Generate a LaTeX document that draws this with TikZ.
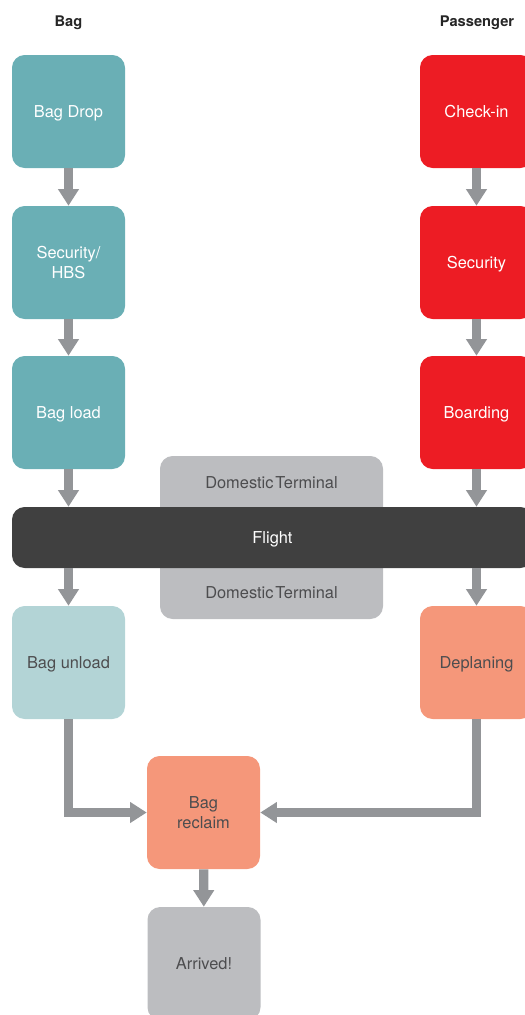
\documentclass[tikz,border=0pt]{standalone}
\usepackage{fontspec}
\setmainfont{TeX Gyre Heros}
\usetikzlibrary{arrows.meta}
\definecolor{teal1}{HTML}{6AAFB5}
\definecolor{teal2}{HTML}{B3D4D6}
\definecolor{red1}{HTML}{ED1C24}
\definecolor{salmon}{HTML}{F5977A}
\definecolor{dark1}{HTML}{404040}
\definecolor{grey1}{HTML}{BCBDC0}
\definecolor{arrowgrey}{HTML}{939598}
\definecolor{txtdark}{HTML}{4D4D4F}
\newcommand{\boxfont}{\fontsize{12.3}{14.5}\selectfont}
\tikzset{
  box/.style={rounded corners=9.5pt, minimum width=84.75pt, minimum height=84.75pt,
    inner sep=0pt, align=center, font=\boxfont, text depth=0pt},
  tealbox/.style={box, fill=teal1, text=white},
  redbox/.style={box, fill=red1, text=white},
  lightbox/.style={box, fill=teal2, text=txtdark},
  salmonbox/.style={box, fill=salmon, text=txtdark},
  greybox/.style={box, fill=grey1, text=txtdark},
  flow/.style={draw=arrowgrey, line width=7pt, -{Triangle[width=15pt,length=12.5pt]}},
  header/.style={font=\fontsize{11}{13.5}\selectfont\bfseries, text=black!85, text depth=0pt},
  lbl/.style={font=\boxfont, text=txtdark, text depth=0pt}
}
\begin{document}
\begin{tikzpicture}[x=0.75pt,y=-0.75pt]
\clip (0,0) rectangle (525,1015);
\node[header] (hbag) at (68.5,21) {Bag};
\node[header] (hpas) at (477,21) {Passenger};

% terminal box behind flight
\node[rounded corners=9.5pt, fill=grey1, minimum width=167.25pt, minimum height=122.25pt, inner sep=0pt] (dom) at (271.5,537.5) {};
\node[lbl] (domt) at (271.5,483) {Domestic\hspace{0.12em}Terminal};
\node[lbl] (domb) at (271.5,593) {Domestic\hspace{0.12em}Terminal};

\node[rounded corners=9.5pt, fill=dark1, text=white, minimum width=390.75pt, minimum height=45.75pt, inner sep=0pt, font=\boxfont, text depth=0pt] (fl) at (272.5,537.5) {Flight};

\node[tealbox] (bd) at (68.5,111.5) {Bag Drop};
\node[tealbox] (sec) at (68.5,262.5) {Security/\\HBS};
\node[tealbox] (bl) at (68.5,412.5) {Bag load};
\node[lightbox] (bu) at (68.5,662.5) {Bag unload};

\node[redbox] (ci) at (476.5,111.5) {Check-in};
\node[redbox] (ps) at (476.5,262.5) {Security};
\node[redbox] (bo) at (476.5,412.5) {Boarding};
\node[salmonbox] (dp) at (476.5,662.5) {Deplaning};

\node[salmonbox] (br) at (203.5,812.5) {Bag\\reclaim};
\node[greybox] (ar) at (204,963.5) {Arrived!};

\draw[flow] (bd) -- (sec);
\draw[flow] (sec) -- (bl);
\draw[flow] (bl.south) -- (bl.south |- fl.north);
\draw[flow] (bu.north |- fl.south) -- (bu.north);
\draw[flow] (ci) -- (ps);
\draw[flow] (ps) -- (bo);
\draw[flow] (bo.south) -- (bo.south |- fl.north);
\draw[flow] (dp.north |- fl.south) -- (dp.north);
\draw[flow] (bu.south) |- (br.west);
\draw[flow] (dp.south) |- (br.east);
\draw[flow] (br) -- (ar);
\end{tikzpicture}
\end{document}
